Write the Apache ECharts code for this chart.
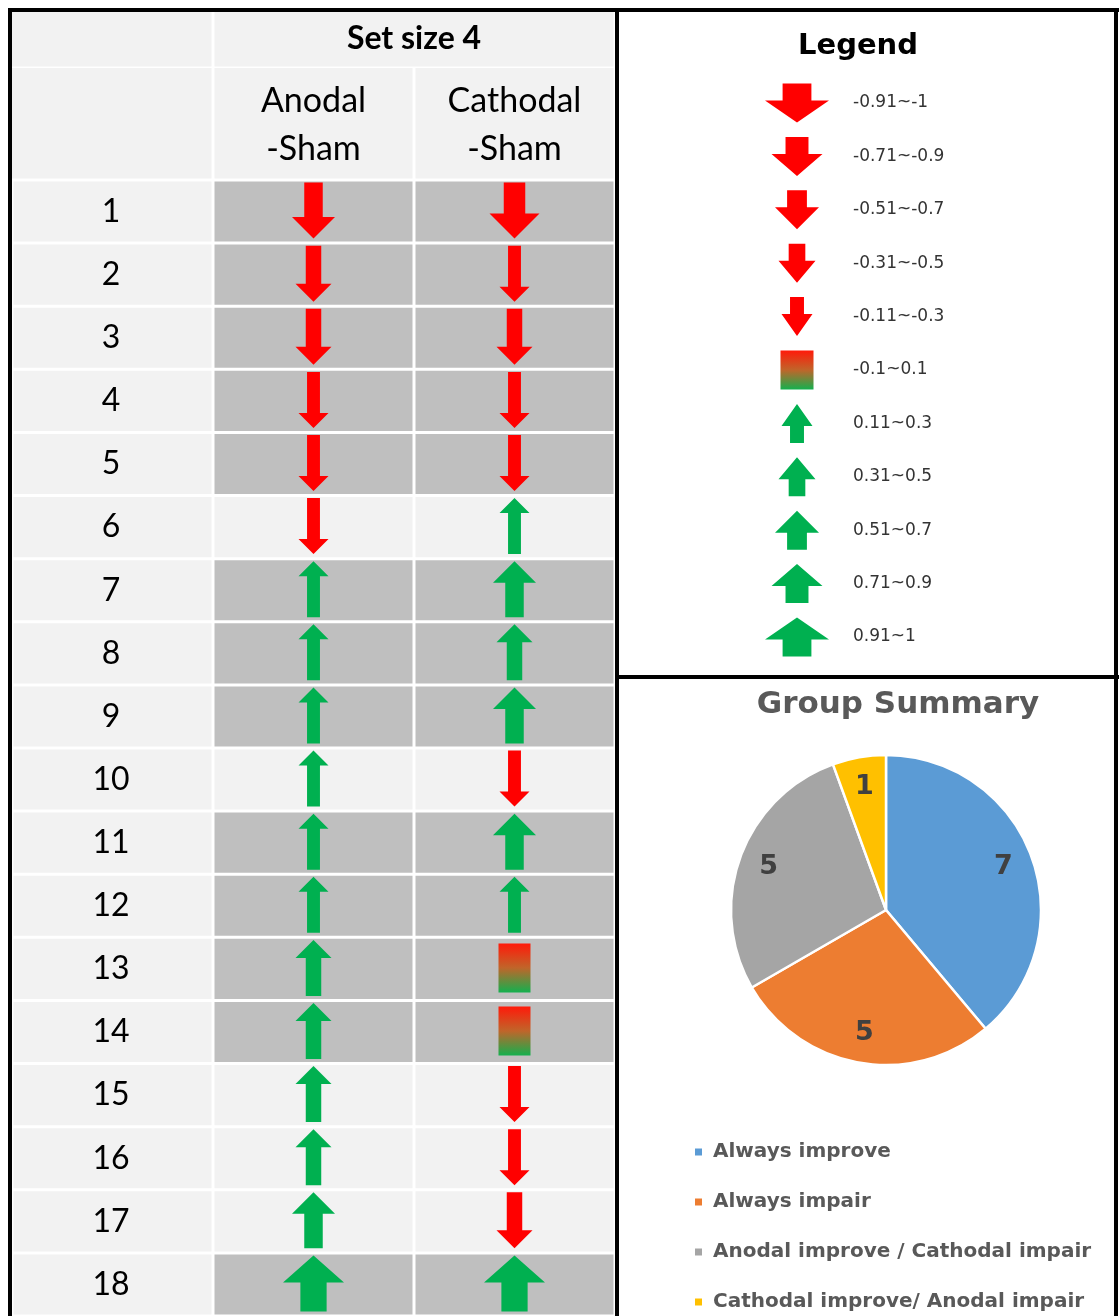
<!DOCTYPE html>
<html>
<head>
<meta charset="utf-8">
<script src="https://cdn.jsdelivr.net/npm/echarts@6/dist/echarts.min.js"></script>
<style>
html,body{margin:0;padding:0;background:#fff;}
#chart{width:1119px;height:1316px;}
</style>
</head>
<body>
<div id="chart"></div>
<script>
// ---------- DATA ----------
const rowLabels = ['1','2','3','4','5','6','7','8','9','10','11','12','13','14','15','16','17','18'];
const colLabels = ['', 'Anodal\n-Sham', 'Cathodal\n-Sham'];
// 1 = grey shaded row, 0 = light row
const shaded = [1,1,1,1,1,0,1,1,1,0,1,1,1,1,0,0,0,1];
const anodal   = [-0.6,-0.4,-0.4,-0.2,-0.2,-0.2, 0.2, 0.2, 0.2, 0.2, 0.2, 0.2, 0.4, 0.4, 0.4, 0.4, 0.6, 0.95];
const cathodal = [-0.8,-0.2,-0.4,-0.2,-0.2, 0.2, 0.6, 0.4, 0.6,-0.2, 0.6, 0.2, 0.0, 0.0,-0.2,-0.2,-0.4, 0.95];
const legendLabels = ['-0.91~-1','-0.71~-0.9','-0.51~-0.7','-0.31~-0.5','-0.11~-0.3','-0.1~0.1','0.11~0.3','0.31~0.5','0.51~0.7','0.71~0.9','0.91~1'];
const legendValues = [-0.95,-0.8,-0.6,-0.4,-0.2,0,0.2,0.4,0.6,0.8,0.95];
const summaryNames = ['Always improve','Always impair','Anodal improve / Cathodal impair','Cathodal improve/ Anodal impair'];
const summaryValues = [7,5,5,1];

// ---------- STYLE ----------
const RED = '#ff0000', GREEN = '#00b050';
const GREY = '#bfbfbf', LIGHT = '#f2f2f2';
const pieColors = ['#5b9bd5','#ed7d31','#a5a5a5','#ffc000'];

function levelOf(v){
  const a = Math.abs(v);
  if (a <= 0.1) return 0;
  if (a <= 0.3) return 1;
  if (a <= 0.5) return 2;
  if (a <= 0.7) return 3;
  if (a <= 0.9) return 4;
  return 5;
}
function gradientFill(){
  return new echarts.graphic.LinearGradient(0,0,0,1,[
    {offset:0,color:'#ff1a0a'},{offset:0.5,color:'#c0652a'},{offset:1,color:'#14b04e'}]);
}
function makeArrowRenderer(o){
  return function(params, api){
    const v = api.value(2);
    const c = api.coord([api.value(0), api.value(1)]);
    const cx = c[0], cy = c[1] + o.dy;
    const lv = levelOf(v);
    if (lv === 0){
      return {type:'rect', shape:{x:cx-o.sqW/2, y:cy-o.sqH/2, width:o.sqW, height:o.sqH},
              style:{fill:gradientFill()}};
    }
    const hw = o.headW[lv-1];
    const sw = hw * o.shaft;
    const hh = o.headH(hw);
    const h = o.h;
    const top = cy - h/2, bot = cy + h/2;
    let pts;
    if (v < 0){
      pts = [[cx-sw/2,top],[cx+sw/2,top],[cx+sw/2,bot-hh],[cx+hw/2,bot-hh],[cx,bot],[cx-hw/2,bot-hh],[cx-sw/2,bot-hh]];
    } else {
      pts = [[cx-sw/2,bot],[cx+sw/2,bot],[cx+sw/2,top+hh],[cx+hw/2,top+hh],[cx,top],[cx-hw/2,top+hh],[cx-sw/2,top+hh]];
    }
    return {type:'polygon', shape:{points:pts}, style:{fill: v<0 ? RED : GREEN}};
  };
}
const tableArrow = makeArrowRenderer({h:56, dy:-1, headW:[30,36,43,50,61], shaft:0.43,
  headH: hw => Math.min(hw*0.5, 27), sqW:32, sqH:49});
const legendArrow = makeArrowRenderer({h:39, dy:0, headW:[31,37,44,51,64], shaft:0.45,
  headH: hw => 22, sqW:33, sqH:39});

// ---------- build series data ----------
const cellData = [];
rowLabels.forEach((r,i)=>{ for (let c=0;c<3;c++) cellData.push([c, i, (c>0 && shaded[i]) ? 1 : 0]); });
const anodalData = anodal.map((v,i)=>[1,i,v]);
const cathodalData = cathodal.map((v,i)=>[2,i,v]);
const legendData = legendValues.map((v,i)=>[0,i,v]);
const pieData = summaryNames.map((n,i)=>({name:n, value:summaryValues[i], itemStyle:{color:pieColors[i]}}));
const pieLabelData = summaryNames.map((n,i)=>({name:n, value:summaryValues[i]}));

const chart = echarts.init(document.getElementById('chart'), null, {renderer:'canvas'});
const BLACK = '#000';
function hline(x1,x2,y){return {type:'line', z:100, shape:{x1,y1:y,x2,y2:y}, style:{stroke:BLACK, lineWidth:4}};}
function vline(x,y1,y2){return {type:'line', z:100, shape:{x1:x,y1,x2:x,y2}, style:{stroke:BLACK, lineWidth:4}};}
function cell(x,y,w,h){return {type:'rect', z:-10, shape:{x,y,width:w,height:h}, style:{fill:LIGHT}};}

const option = {
  backgroundColor:'#ffffff',
  animation:false,
  graphic:{elements:[
    // header cells
    cell(12,12,199.5,54.5), cell(214.5,12,399,54.5),
    cell(12,68,199.5,110.5), cell(214.5,68,198,110.5), cell(415.5,68,198,110.5),
    {type:'text', z:5, x:414, y:39, style:{text:'Set size 4', align:'center', verticalAlign:'middle',
      fontFamily:'Lato', fontWeight:'bold', fontSize:32, fill:'#000'}},
    {type:'text', z:5, x:858, y:46, style:{text:'Legend', align:'center', verticalAlign:'middle',
      fontFamily:'DejaVu Sans', fontWeight:'bold', fontSize:29, fill:'#000'}},
    {type:'text', z:5, x:898, y:705, style:{text:'Group Summary', align:'center', verticalAlign:'middle',
      fontFamily:'DejaVu Sans', fontWeight:'bold', fontSize:31, fill:'#595959'}},
    // borders
    hline(8,1119,10), vline(10,8,1316), vline(617,8,1316), hline(617,1119,677), vline(1116,8,1316)
  ]},
  grid:[
    {left:12, top:180, width:603, height:1140},
    {left:770, top:76.3, width:54, height:587.4}
  ],
  xAxis:[
    {gridIndex:0, type:'category', data:colLabels, position:'top',
     axisLine:{show:false}, axisTick:{show:false}, splitLine:{show:false},
     axisLabel:{fontFamily:'Lato', fontSize:34, lineHeight:48, color:'#000', margin:7, interval:0}},
    {gridIndex:1, type:'category', data:[''], show:false}
  ],
  yAxis:[
    {gridIndex:0, type:'category', data:rowLabels, inverse:true, z:10,
     axisLine:{show:false}, axisTick:{show:false}, splitLine:{show:false},
     axisLabel:{inside:true, align:'center', margin:99, fontFamily:'Lato', fontSize:32, color:'#000', interval:0, padding:[3,0,0,0]}},
    {gridIndex:1, type:'category', data:legendLabels, inverse:true, position:'right',
     axisLine:{show:false}, axisTick:{show:false}, splitLine:{show:false},
     axisLabel:{margin:29, align:'left', fontFamily:'DejaVu Sans', fontSize:17, color:'#333', interval:0}}
  ],
  legend:{
    orient:'vertical', left:693, top:1142, padding:0, height:174, itemWidth:9, itemHeight:9, itemGap:30, icon:'rect',
    data:summaryNames, selectedMode:false,
    textStyle:{fontFamily:'DejaVu Sans', fontWeight:'bold', fontSize:20, lineHeight:20, color:'#595959', padding:[0,0,0,5]}
  },
  series:[
    {type:'custom', name:'cells', xAxisIndex:0, yAxisIndex:0, z:1, silent:true, data:cellData,
     renderItem:function(params, api){
       const c = api.coord([api.value(0), api.value(1)]);
       const s = api.size([1,1]);
       return {type:'rect', shape:{x:c[0]-s[0]/2+1.5, y:c[1]-s[1]/2+1.5, width:s[0]-3, height:s[1]-3},
               style:{fill: api.value(2) ? GREY : LIGHT}};
     }},
    {type:'custom', name:'Anodal-Sham', xAxisIndex:0, yAxisIndex:0, z:3, data:anodalData, renderItem:tableArrow},
    {type:'custom', name:'Cathodal-Sham', xAxisIndex:0, yAxisIndex:0, z:3, data:cathodalData, renderItem:tableArrow},
    {type:'custom', name:'legendArrows', xAxisIndex:1, yAxisIndex:1, z:3, data:legendData, renderItem:legendArrow},
    {type:'pie', name:'Group Summary', center:[886,910], radius:[0,155], startAngle:90, clockwise:true,
     data:pieData, label:{show:false}, labelLine:{show:false},
     itemStyle:{borderColor:'#fff', borderWidth:2.5}, emphasis:{disabled:true}},
    {type:'pie', name:'labels', center:[886,910], radius:[90,154], startAngle:90, clockwise:true, silent:true,
     data:pieLabelData, itemStyle:{color:'rgba(0,0,0,0)', borderWidth:0}, labelLine:{show:false},
     emphasis:{disabled:true},
     label:{show:true, position:'inside', formatter:'{c}', fontFamily:'DejaVu Sans', fontWeight:'bold', fontSize:27, color:'#404040'}}
  ]
};
chart.setOption(option);
</script>
</body>
</html>
